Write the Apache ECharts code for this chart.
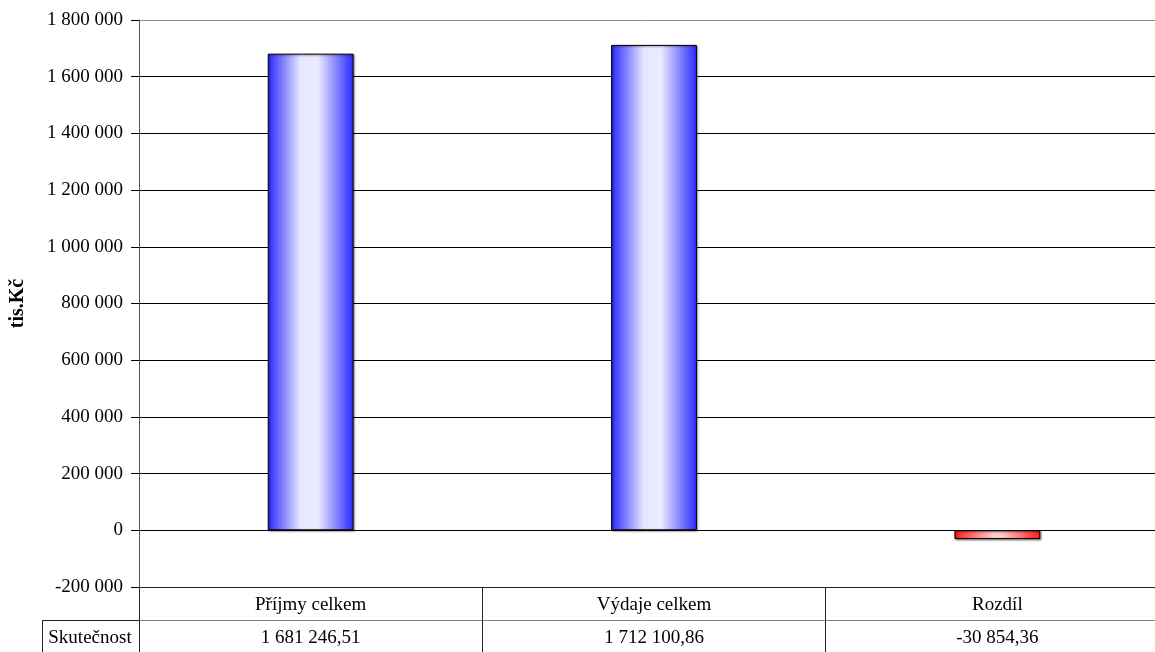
<!DOCTYPE html>
<html>
<head>
<meta charset="utf-8">
<script src="https://cdn.jsdelivr.net/npm/echarts@6/dist/echarts.min.js"></script>
<style>html,body{margin:0;padding:0;background:#fff;}#c{width:1155px;height:652px;}</style>
</head>
<body>
<div id="c"></div>
<script>
const categories = ['Příjmy celkem', 'Výdaje celkem', 'Rozdíl'];
const values = [1681246.51, 1712100.86, -30854.36];
const rowLabel = 'Skutečnost';
const yAxisName = 'tis.Kč';
const yMin = -200000, yMax = 1800000, yStep = 200000;

function grp(n, dec) {
  const neg = n < 0;
  let s = Math.abs(n).toFixed(dec);
  let [i, d] = s.split('.');
  i = i.replace(/\B(?=(\d{3})+(?!\d))/g, ' ');
  return (neg ? '-' : '') + i + (d ? ',' + d : '');
}

const FONT = '"Liberation Serif", "Times New Roman", serif';
const FS = 19;
const blueGrad = {type:'linear', x:0, y:0, x2:1, y2:0, colorStops:[
  {offset:0, color:'#2828ff'}, {offset:0.38, color:'#e6e6ff'}, {offset:0.58, color:'#ececff'}, {offset:1, color:'#2828ff'}]};
const redGrad = {type:'linear', x:0, y:0, x2:1, y2:0, colorStops:[
  {offset:0, color:'#ff1a1a'}, {offset:0.45, color:'#ffcccc'}, {offset:0.55, color:'#ffcaca'}, {offset:1, color:'#ff1a1a'}]};

const chart = echarts.init(document.getElementById('c'));
const splitColors = [];
for (let v = yMin; v <= yMax; v += yStep) splitColors.push(v === yMax ? '#8c8c8c' : '#000');

chart.setOption({
  animation: false,
  textStyle: {fontFamily: FONT},
  grid: {left: 139, width: 1030, top: 20, bottom: 65, containLabel: false, outerBoundsMode: 'none'},
  xAxis: [{
    type: 'category', data: categories, position: 'bottom',
    axisLine: {onZero: false, lineStyle: {color: '#222', width: 1}},
    axisTick: {show: true, length: 66, interval: 0, lineStyle: {color: '#222'}},
    axisLabel: {fontFamily: FONT, fontSize: FS, color: '#000', margin: 9, interval: 0},
    splitLine: {show: false}
  }, {
    type: 'category', data: values.map(v => grp(v, 2)), position: 'bottom', offset: 33,
    axisLine: {show: true, onZero: false, lineStyle: {color: '#808080', width: 1}},
    axisTick: {show: false},
    axisLabel: {fontFamily: FONT, fontSize: FS, color: '#000', margin: 9, interval: 0},
    splitLine: {show: false}
  }],
  yAxis: {
    type: 'value', min: yMin, max: yMax, interval: yStep,
    name: yAxisName, nameLocation: 'middle', nameGap: 111, nameRotate: 90,
    nameTextStyle: {fontFamily: FONT, fontSize: 20, fontWeight: 'bold', color: '#000'},
    axisLine: {show: true, lineStyle: {color: '#555'}},
    axisTick: {show: true, length: 8, lineStyle: {color: '#000'}},
    axisLabel: {fontFamily: FONT, fontSize: FS, color: '#000', margin: 16, formatter: v => grp(v, 0)},
    splitLine: {show: true, lineStyle: {color: splitColors, width: 1}}
  },
  series: [{
    type: 'bar', xAxisIndex: 0, barWidth: '25%',
    data: values.map(v => ({value: v, itemStyle: {color: v < 0 ? redGrad : blueGrad}})),
    itemStyle: {borderColor: '#000', borderWidth: 1, shadowColor: 'rgba(0,0,0,0.45)', shadowBlur: 2, shadowOffsetX: 1, shadowOffsetY: 1}
  }],
  graphic: [{
    type: 'rect', shape: {x: 42.5, y: 620.5, width: 97, height: 40},
    style: {fill: 'none', stroke: '#222', lineWidth: 1}, z: 10
  }, {
    type: 'text', x: 90, y: 638,
    style: {text: rowLabel, font: FS + 'px ' + FONT, fill: '#000', align: 'center', verticalAlign: 'middle'}, z: 10
  }]
});
</script>
</body>
</html>
